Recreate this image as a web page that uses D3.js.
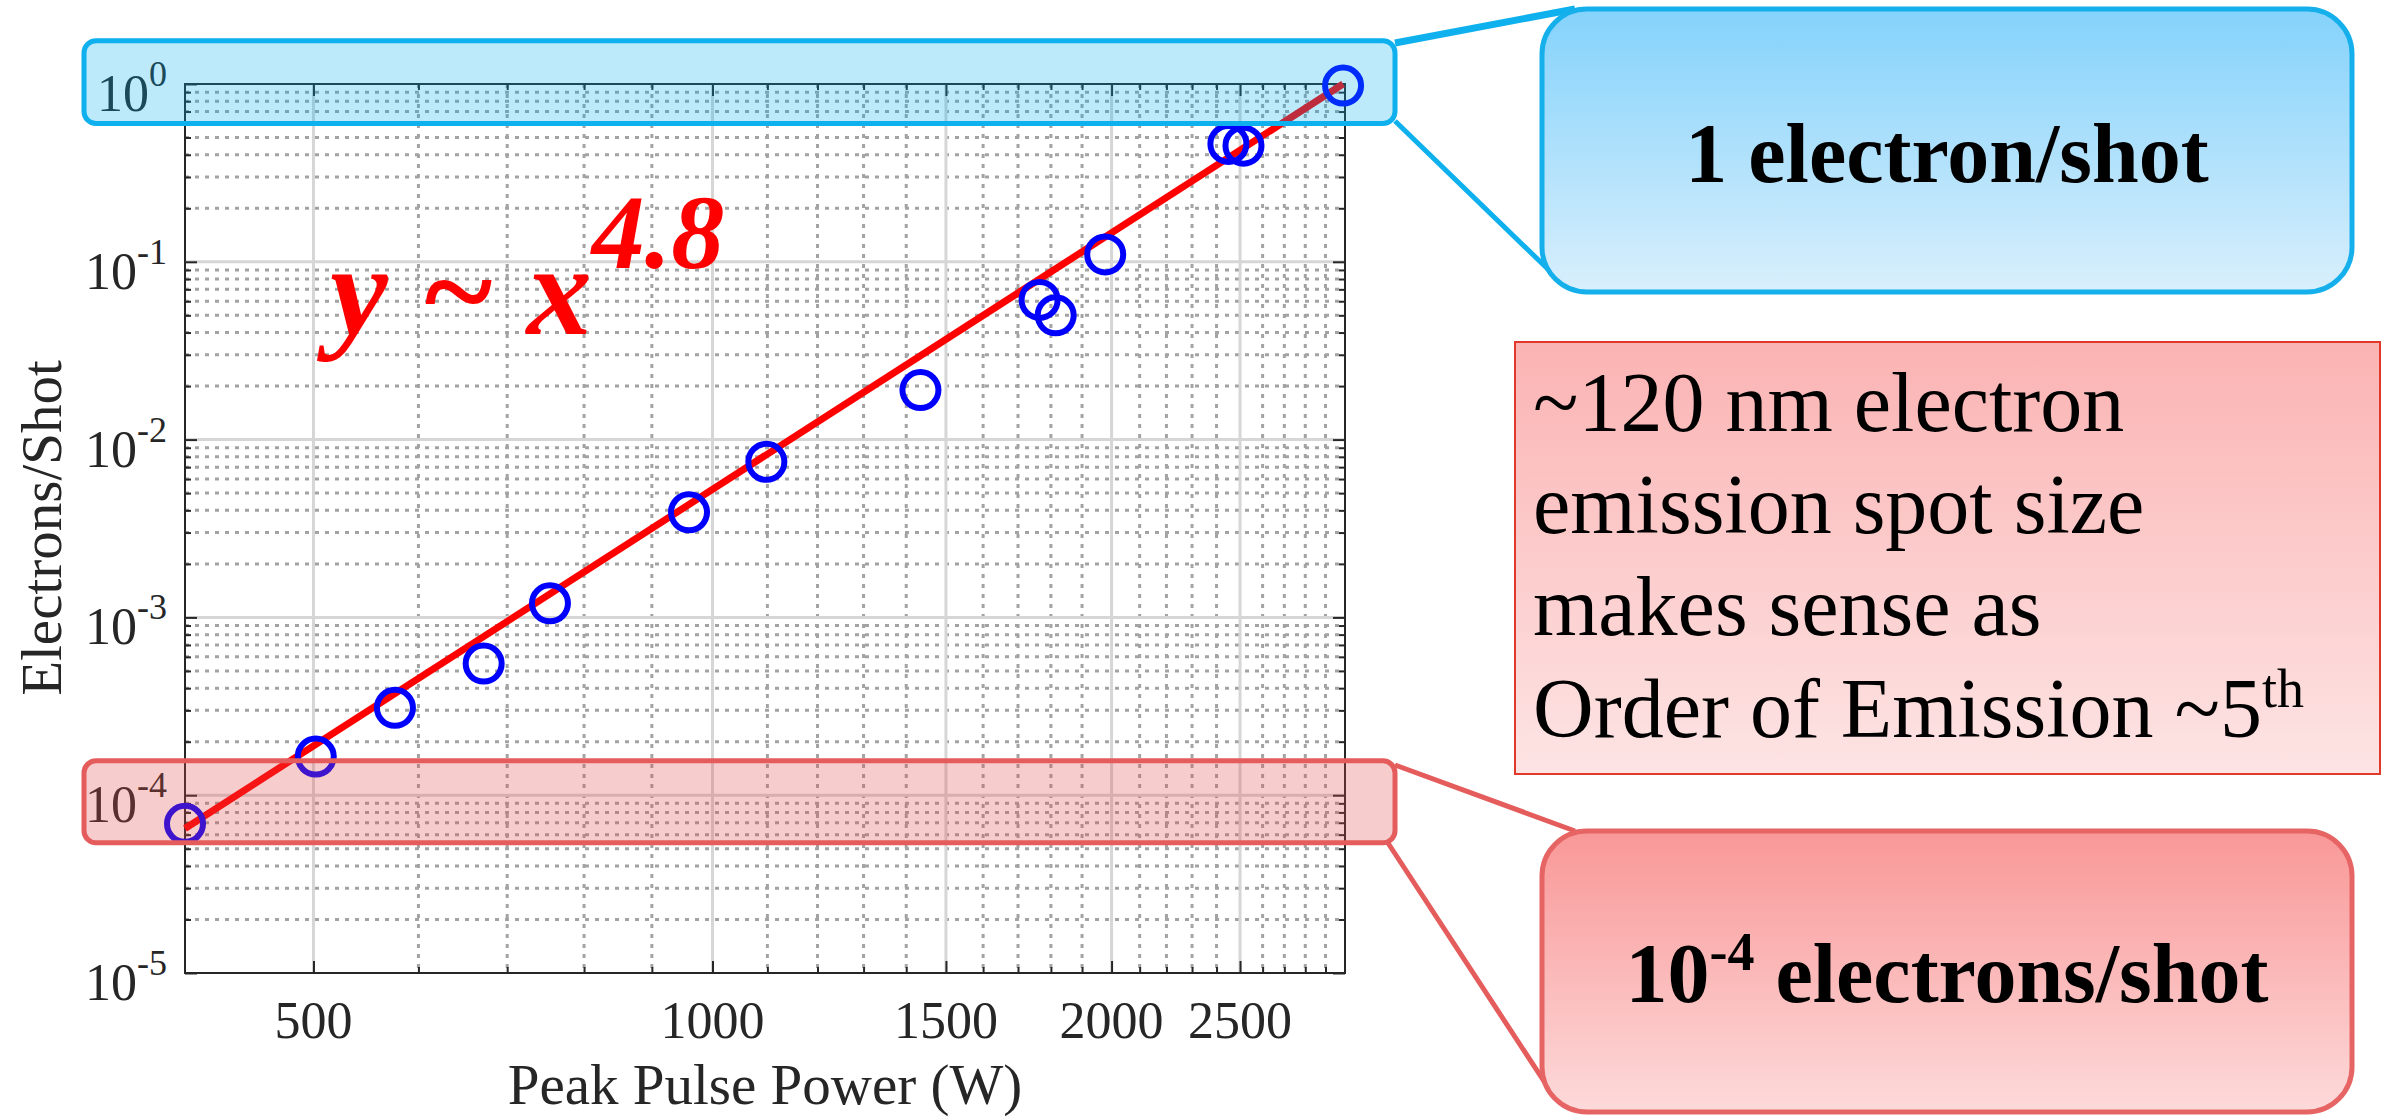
<!DOCTYPE html>
<html lang="en">
<head>
<meta charset="UTF-8">
<title>Electrons/Shot vs Peak Pulse Power</title>
<script src="https://d3js.org/d3.v7.min.js"></script>
<style>
    body { margin: 0; background: #fff; }
    svg { display: block; font-family: "Liberation Serif", "Times New Roman", serif; }
    .grid-major { stroke: #d6d6d6; stroke-width: 3; }
    .grid-minor { stroke: #a3a3a3; stroke-width: 3; stroke-dasharray: 4 6; }
    .axis line { stroke: #262626; stroke-width: 2; }
    .frame { fill: none; stroke: #262626; stroke-width: 2; }
    .tick-label { fill: #262626; font-size: 52px; }
</style>
</head>
<body>
<svg width="2382" height="1118"></svg>

<script>
    // measured points (peak pulse power in W, electrons per shot)
    const power     = [400, 502, 576, 672, 754, 960, 1098, 1435, 1765, 1815, 1978, 2450, 2515, 2990];
    const electrons = [6.9e-5, 1.65e-4, 3.1e-4, 5.5e-4, 1.2e-3, 3.9e-3, 7.5e-3, 1.9e-2, 6.1e-2, 5.0e-2, 0.11, 0.46, 0.45, 0.98];

    // power-law fit end points
    const fitPower     = [400, 2990];
    const fitElectrons = [6.5e-5, 1.0];

    const xTickValues = [500, 1000, 1500, 2000, 2500];
    const yTickExps   = [0, -1, -2, -3, -4, -5];

    // highlighted levels (electrons/shot)
    const highBand = [0.6, 1.75];
    const lowBand  = [5.4e-5, 1.56e-4];

    const noteLines = ["~120 nm electron", "emission spot size", "makes sense as", "Order of Emission ~5"];

    const svg = d3.select("svg");
    const box = {left: 185, right: 1345, top: 84, bottom: 973};

    const x = d3.scaleLog().domain([400, 3000]).range([box.left, box.right]);
    const y = d3.scaleLog().domain([1e-5, 1]).range([box.bottom, box.top]);

    const xMinor = d3.range(500, 3000, 100).filter(v => !xTickValues.includes(v));
    const yMajor = yTickExps.map(e => Math.pow(10, e));
    const yMinor = [];
    yTickExps.slice(1).forEach(e => {
        d3.range(2, 10).forEach(k => yMinor.push(k * Math.pow(10, e)));
    });

    // gradients for the call-out boxes
    const defs = svg.append("defs");
    function grad(id, top, bottom) {
        const g = defs.append("linearGradient").attr("id", id)
            .attr("x1", 0).attr("y1", 0).attr("x2", 0).attr("y2", 1);
        g.append("stop").attr("offset", 0).attr("stop-color", top);
        g.append("stop").attr("offset", 1).attr("stop-color", bottom);
    }
    grad("blueGrad", "#84d2fb", "#d9effc");
    grad("redGrad", "#f99797", "#fddada");
    grad("noteGrad", "#fbb3b3", "#fde4e4");

    // grid
    const grid = svg.append("g");
    grid.selectAll("line.xmin").data(xMinor).join("line").attr("class", "grid-minor")
        .attr("x1", d => x(d)).attr("x2", d => x(d)).attr("y1", box.top).attr("y2", box.bottom);
    grid.selectAll("line.ymin").data(yMinor).join("line").attr("class", "grid-minor")
        .attr("y1", d => y(d)).attr("y2", d => y(d)).attr("x1", box.left).attr("x2", box.right);
    grid.selectAll("line.xmaj").data(xTickValues).join("line").attr("class", "grid-major")
        .attr("x1", d => x(d)).attr("x2", d => x(d)).attr("y1", box.top).attr("y2", box.bottom);
    grid.selectAll("line.ymaj").data(yMajor.slice(1, -1)).join("line").attr("class", "grid-major")
        .attr("y1", d => y(d)).attr("y2", d => y(d)).attr("x1", box.left).attr("x2", box.right);

    // ticks on all four sides, pointing inwards
    function ticks(axisFn, values, size, transform) {
        svg.append("g").attr("class", "axis").attr("transform", transform)
            .call(axisFn.tickValues(values).tickSize(-size).tickFormat(""))
            .call(g => g.select(".domain").remove());
    }
    ticks(d3.axisBottom(x), xMinor, 6, `translate(0,${box.bottom})`);
    ticks(d3.axisBottom(x), xTickValues, 12, `translate(0,${box.bottom})`);
    ticks(d3.axisTop(x), xMinor, 6, `translate(0,${box.top})`);
    ticks(d3.axisTop(x), xTickValues, 12, `translate(0,${box.top})`);
    ticks(d3.axisLeft(y), yMinor, 6, `translate(${box.left},0)`);
    ticks(d3.axisLeft(y), yMajor, 12, `translate(${box.left},0)`);
    ticks(d3.axisRight(y), yMinor, 6, `translate(${box.right},0)`);
    ticks(d3.axisRight(y), yMajor, 12, `translate(${box.right},0)`);

    svg.append("rect").attr("class", "frame")
        .attr("x", box.left).attr("y", box.top)
        .attr("width", box.right - box.left).attr("height", box.bottom - box.top);

    // tick labels
    svg.selectAll("text.xt").data(xTickValues).join("text").attr("class", "tick-label")
        .attr("x", d => x(d)).attr("y", 1038).attr("text-anchor", "middle").text(d => d);

    const yl = svg.selectAll("text.yt").data(yTickExps).join("text").attr("class", "tick-label")
        .attr("x", 167).attr("y", d => y(Math.pow(10, d)) + 27).attr("text-anchor", "end");
    yl.append("tspan").text("10");
    yl.append("tspan").attr("dy", -25).attr("font-size", 36).text(d => d === 0 ? "0" : "-" + (-d));

    // axis titles
    svg.append("text").attr("x", 765).attr("y", 1104).attr("text-anchor", "middle")
        .attr("font-size", 57).attr("fill", "#262626").text("Peak Pulse Power (W)");
    svg.append("text").attr("transform", "translate(61,528) rotate(-90)").attr("text-anchor", "middle")
        .attr("font-size", 57).attr("fill", "#262626").text("Electrons/Shot");

    // fit line and data
    svg.append("line")
        .attr("x1", x(fitPower[0])).attr("y1", y(fitElectrons[0]))
        .attr("x2", x(fitPower[1])).attr("y2", y(fitElectrons[1]))
        .attr("stroke", "#ff0000").attr("stroke-width", 7);

    svg.selectAll("circle.pt").data(power.map((p, i) => [p, electrons[i]])).join("circle")
        .attr("cx", d => x(d[0])).attr("cy", d => y(d[1])).attr("r", 18)
        .attr("fill", "none").attr("stroke", "#0000ff").attr("stroke-width", 6);

    const formula = svg.append("text").attr("x", 330).attr("y", 334)
        .attr("fill", "#ff0000").attr("font-weight", "bold").attr("font-style", "italic")
        .attr("font-size", 130).attr("xml:space", "preserve");
    formula.append("tspan").text("y ~ x");
    formula.append("tspan").attr("dy", -66).attr("font-size", 106).text("4.8");

    // highlight bands over the plot
    svg.append("rect").attr("x", 84).attr("y", y(highBand[1]))
        .attr("width", 1311).attr("height", y(highBand[0]) - y(highBand[1])).attr("rx", 12)
        .attr("fill", "#00aeef").attr("fill-opacity", 0.26)
        .attr("stroke", "#0fb0ee").attr("stroke-width", 5);
    svg.append("rect").attr("x", 84).attr("y", y(lowBand[1]))
        .attr("width", 1311).attr("height", y(lowBand[0]) - y(lowBand[1])).attr("rx", 12)
        .attr("fill", "#e04848").attr("fill-opacity", 0.28)
        .attr("stroke", "#e55c5c").attr("stroke-width", 5);

    // call-out leader lines
    const leaders = [
        {x1: 1395, y1: 43, x2: 1575, y2: 9, c: "#0fb0ee", w: 7},
        {x1: 1395, y1: 121, x2: 1555, y2: 276, c: "#0fb0ee", w: 5},
        {x1: 1395, y1: 765, x2: 1575, y2: 831, c: "#e55c5c", w: 5},
        {x1: 1388, y1: 843, x2: 1555, y2: 1098, c: "#e55c5c", w: 5}
    ];
    svg.selectAll("line.leader").data(leaders).join("line")
        .attr("x1", d => d.x1).attr("y1", d => d.y1).attr("x2", d => d.x2).attr("y2", d => d.y2)
        .attr("stroke", d => d.c).attr("stroke-width", d => d.w);

    // call-out boxes
    svg.append("rect").attr("x", 1542).attr("y", 9).attr("width", 810).attr("height", 283)
        .attr("rx", 45).attr("fill", "url(#blueGrad)").attr("stroke", "#15b0ec").attr("stroke-width", 5);
    svg.append("text").attr("x", 1947).attr("y", 182).attr("text-anchor", "middle")
        .attr("font-size", 84).attr("font-weight", "bold").text("1 electron/shot");

    svg.append("rect").attr("x", 1542).attr("y", 831).attr("width", 810).attr("height", 281)
        .attr("rx", 45).attr("fill", "url(#redGrad)").attr("stroke", "#e66464").attr("stroke-width", 5);
    const low = svg.append("text").attr("x", 1947).attr("y", 1002).attr("text-anchor", "middle")
        .attr("font-size", 84).attr("font-weight", "bold").attr("xml:space", "preserve");
    low.append("tspan").text("10");
    low.append("tspan").attr("dy", -32).attr("font-size", 54).text("-4");
    low.append("tspan").attr("dy", 32).text(" electrons/shot");

    svg.append("rect").attr("x", 1515).attr("y", 342).attr("width", 865).attr("height", 432)
        .attr("fill", "url(#noteGrad)").attr("stroke", "#e0392b").attr("stroke-width", 2);
    const note = svg.selectAll("text.note").data(noteLines).join("text")
        .attr("x", 1533).attr("y", (d, i) => 431 + i * 102).attr("font-size", 84).text(d => d);
    note.filter((d, i) => i === noteLines.length - 1)
        .append("tspan").attr("dy", -30).attr("font-size", 54).text("th");
</script>
</body>
</html>
